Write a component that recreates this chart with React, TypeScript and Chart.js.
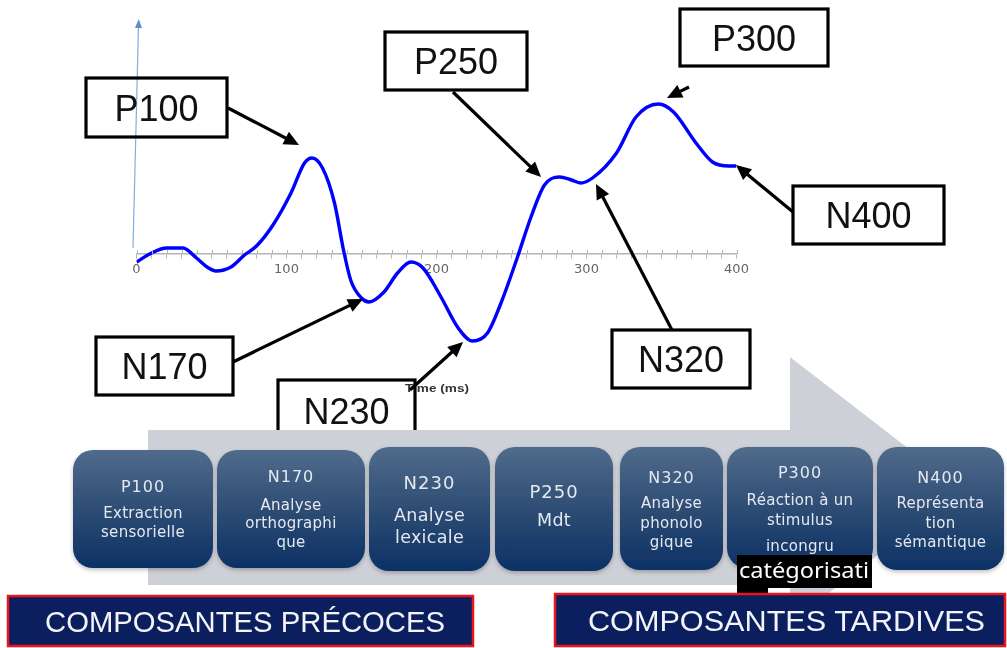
import React, { useEffect, useRef } from 'react';
import { Chart, registerables } from 'chart.js';

Chart.register(...registerables);

// ---------- DATA ----------
const times = [0, 10, 20, 31, 40, 47, 53, 63, 72, 80, 91, 103, 112, 117, 124, 132, 138, 143, 150, 155, 165, 174, 183, 191, 203, 214, 224, 234, 243, 254, 263, 272, 282, 290, 296, 304, 320, 333, 348, 358, 373, 384, 395, 400];
const amplitudes = [-0.8, 0.1, 0.6, 0.6, -0.4, -1.3, -1.7, -1.3, -0.1, 0.8, 2.9, 6.1, 9.1, 9.6, 8.6, 5.1, 0.4, -2.7, -4.4, -4.8, -3.8, -1.9, -0.8, -1.4, -4.3, -7.3, -8.7, -7.9, -4.9, -0.3, 3.7, 6.9, 7.7, 7.4, 7.1, 7.6, 10.1, 13.7, 15.0, 14.2, 11.1, 9.2, 8.8, 8.8];
const xTickLabels = ['0', '100', '200', '300', '400'];
const xAxisTitle = 'Time (ms)';

const peakLabels = ['P100', 'P250', 'P300', 'N400', 'N320', 'N170', 'N230'];
const stageTitles = ['P100', 'N170', 'N230', 'P250', 'N320', 'P300', 'N400'];
const stageDescriptions = [
  ['Extraction', 'sensorielle'],
  ['Analyse', 'orthographi', 'que'],
  ['Analyse', 'lexicale'],
  ['Mdt'],
  ['Analyse', 'phonolo', 'gique'],
  ['Réaction à un', 'stimulus', 'incongru'],
  ['Représenta', 'tion', 'sémantique'],
];
const overflowLabel = 'catégorisati';
const groupLabels = ['COMPOSANTES PRÉCOCES', 'COMPOSANTES TARDIVES'];

// ---------- LAYOUT (positions / sizes) ----------
const peakBoxes = [
  { x: 86, y: 78, w: 141, h: 59 },
  { x: 385, y: 32, w: 142, h: 58 },
  { x: 680, y: 9, w: 148, h: 57 },
  { x: 793, y: 186, w: 151, h: 58 },
  { x: 612, y: 330, w: 138, h: 58 },
  { x: 96, y: 337, w: 137, h: 58 },
  { x: 278, y: 380, w: 137, h: 62 },
];
const peakArrows = [
  [228, 108, 299, 145],
  [453, 92, 541, 177],
  [689, 87, 667, 98],
  [793, 212, 736, 165],
  [672, 330, 596, 184],
  [233, 362, 363, 299],
  [410, 390, 463, 342],
];
const stageBoxes = [
  { x: 73, y: 450, w: 140, h: 118, fs: 15, tfs: 16, lines: [486, 513, 532] },
  { x: 217, y: 450, w: 148, h: 118, fs: 15, tfs: 16, lines: [476, 505, 523, 542] },
  { x: 369, y: 447, w: 121, h: 124, fs: 17.5, tfs: 18, lines: [483, 515, 537] },
  { x: 495, y: 447, w: 118, h: 124, fs: 17.5, tfs: 18, lines: [492, 520] },
  { x: 620, y: 447, w: 103, h: 123, fs: 15, tfs: 16, lines: [477, 503, 523, 542] },
  { x: 727, y: 447, w: 146, h: 121, fs: 15, tfs: 16, lines: [472, 500, 520, 546] },
  { x: 877, y: 447, w: 127, h: 123, fs: 15, tfs: 16, lines: [477, 503, 523, 542] },
];

function arrowShape(x1: number, y1: number, x2: number, y2: number, key: number) {
  const dx = x2 - x1, dy = y2 - y1;
  const len = Math.sqrt(dx * dx + dy * dy);
  const ux = dx / len, uy = dy / len;
  const hl = 15, hw = 7;
  const bx = x2 - ux * hl, by = y2 - uy * hl;
  const px = -uy, py = ux;
  const pts = `${x2},${y2} ${bx + px * hw},${by + py * hw} ${bx - px * hw},${by - py * hw}`;
  return (
    <g key={key}>
      <line x1={x1} y1={y1} x2={bx + ux * 2} y2={by + uy * 2} stroke="#000" strokeWidth={3.2} />
      <polygon points={pts} fill="#000" />
    </g>
  );
}

const axisDecor = {
  id: 'axisDecor',
  afterDraw(chart: any) {
    const { ctx, chartArea, scales } = chart;
    const xs = scales.x, ys = scales.y;
    const y0 = ys.getPixelForValue(0);
    ctx.save();
    ctx.strokeStyle = '#b4b4b4';
    ctx.lineWidth = 1;
    xs.ticks.forEach((t: any) => {
      const px = Math.round(xs.getPixelForValue(t.value)) + 0.5;
      ctx.beginPath();
      ctx.moveTo(px, y0 - 4);
      ctx.lineTo(px, y0);
      ctx.stroke();
    });
    const bx = chartArea.left - 3.5, by = y0 - 6;
    const tx = chartArea.left + 2, ty = chartArea.top + 7;
    ctx.strokeStyle = '#86addb';
    ctx.lineWidth = 1.2;
    ctx.beginPath();
    ctx.moveTo(bx, by);
    ctx.lineTo(tx, ty);
    ctx.stroke();
    ctx.fillStyle = '#5d8fcf';
    ctx.beginPath();
    ctx.moveTo(tx + 0.2, chartArea.top);
    ctx.lineTo(tx - 3.5, ty + 2);
    ctx.lineTo(tx + 3.5, ty + 2);
    ctx.closePath();
    ctx.fill();
    ctx.restore();
  },
};

function ErpChart() {
  const ref = useRef<HTMLCanvasElement | null>(null);
  useEffect(() => {
    if (!ref.current) return;
    const chart = new Chart(ref.current, {
      type: 'line',
      data: {
        datasets: [
          {
            data: times.map((t, i) => ({ x: t, y: amplitudes[i] })),
            borderColor: '#0000ff',
            borderWidth: 3.4,
            pointRadius: 0,
            cubicInterpolationMode: 'monotone',
            fill: false,
          },
        ],
      },
      options: {
        animation: false,
        responsive: true,
        maintainAspectRatio: false,
        layout: { padding: { left: 136.5, right: 270.5, top: 19, bottom: 294 } },
        plugins: { legend: { display: false }, tooltip: { enabled: false } },
        scales: {
          x: {
            type: 'linear',
            min: 0,
            max: 400,
            position: { y: 0 } as any,
            ticks: {
              stepSize: 10,
              autoSkip: false,
              maxRotation: 0,
              padding: 4,
              color: '#666',
              font: { family: 'DejaVu Sans', size: 13 },
              callback: (v: any) => {
                const s = String(v);
                return xTickLabels.includes(s) ? s : '';
              },
            },
            grid: { drawOnChartArea: false, drawTicks: true, tickLength: 4, color: '#b4b4b4', lineWidth: 1 },
            border: { display: true, color: '#b4b4b4', width: 1.5 },
          },
          y: { display: false, min: -10, max: 23.5 },
        },
      },
      plugins: [axisDecor],
    });
    return () => chart.destroy();
  }, []);
  return (
    <div style={{ position: 'absolute', left: 0, top: 0, width: 1007, height: 648 }}>
      <canvas ref={ref} />
    </div>
  );
}

export default function App() {
  return (
    <div style={{ position: 'fixed', left: 0, top: 0, width: 1007, height: 648, background: '#fff', overflow: 'hidden' }}>
      <ErpChart />
      <svg width={1007} height={648} style={{ position: 'absolute', left: 0, top: 0 }}>
        <defs>
          <linearGradient id="stageGrad" x1="0" y1="0" x2="0" y2="1">
            <stop offset="0" stopColor="#506b8c" />
            <stop offset="0.55" stopColor="#2b4a72" />
            <stop offset="1" stopColor="#0c3166" />
          </linearGradient>
          <filter id="sh" x="-10%" y="-10%" width="120%" height="125%">
            <feDropShadow dx="0" dy="2" stdDeviation="2" floodColor="#000" floodOpacity="0.25" />
          </filter>
        </defs>

        <text x={405} y={392} fontFamily="Liberation Sans, Arial, sans-serif" fontWeight="bold" fontSize={11} fill="#333" textLength={64} lengthAdjust="spacingAndGlyphs">
          {xAxisTitle}
        </text>

        {peakBoxes.map((b, i) => (
          <g key={'pb' + i}>
            <rect x={b.x} y={b.y} width={b.w} height={b.h} fill="none" stroke="#000" strokeWidth={3.2} />
            <text x={b.x + b.w / 2} y={b.y + b.h / 2 + 13} textAnchor="middle" fontFamily="Liberation Sans, Arial, sans-serif" fontSize={36} fill="#111">
              {peakLabels[i]}
            </text>
          </g>
        ))}
        {peakArrows.map((a, i) => arrowShape(a[0], a[1], a[2], a[3], i))}

        <polygon points="148,430 790,430 790,357 962,490 790,623 790,585 148,585" fill="#cdd0d6" />

        {stageBoxes.map((b, i) => (
          <g key={'sb' + i}>
            <rect x={b.x} y={b.y} width={b.w} height={b.h} rx={20} ry={20} fill="url(#stageGrad)" filter="url(#sh)" />
            <text x={b.x + b.w / 2} y={b.lines[0] + b.tfs * 0.36} textAnchor="middle" fontFamily="DejaVu Sans, sans-serif" fontSize={b.tfs} fill="#e4e9f0" letterSpacing={1}>
              {stageTitles[i]}
            </text>
            {stageDescriptions[i].map((ln, j) => (
              <text key={j} x={b.x + b.w / 2} y={b.lines[j + 1] + b.fs * 0.36} textAnchor="middle" fontFamily="DejaVu Sans, sans-serif" fontSize={b.fs} fill="#e4e9f0" letterSpacing={0.3}>
                {ln}
              </text>
            ))}
          </g>
        ))}

        <rect x={737} y={555} width={135} height={33} fill="#000" />
        <rect x={737} y={585} width={31} height={12} fill="#000" />
        <text x={739} y={578} fontFamily="Noto Sans, Open Sans, sans-serif" fontSize={21} fill="#fff" textLength={130} lengthAdjust="spacingAndGlyphs">
          {overflowLabel}
        </text>

        <rect x={8} y={596} width={465} height={50} fill="#0b1f5e" stroke="#e8161b" strokeWidth={2.5} />
        <text x={45} y={632} fontFamily="Liberation Sans Narrow, Liberation Sans, sans-serif" fontSize={29} fill="#f4f4f8" textLength={400} lengthAdjust="spacingAndGlyphs">
          {groupLabels[0]}
        </text>
        <rect x={555} y={594} width={450} height={52} fill="#0b1f5e" stroke="#e8161b" strokeWidth={2.5} />
        <text x={588} y={631} fontFamily="Liberation Sans Narrow, Liberation Sans, sans-serif" fontSize={29} fill="#f4f4f8" textLength={397} lengthAdjust="spacingAndGlyphs">
          {groupLabels[1]}
        </text>
      </svg>
    </div>
  );
}
